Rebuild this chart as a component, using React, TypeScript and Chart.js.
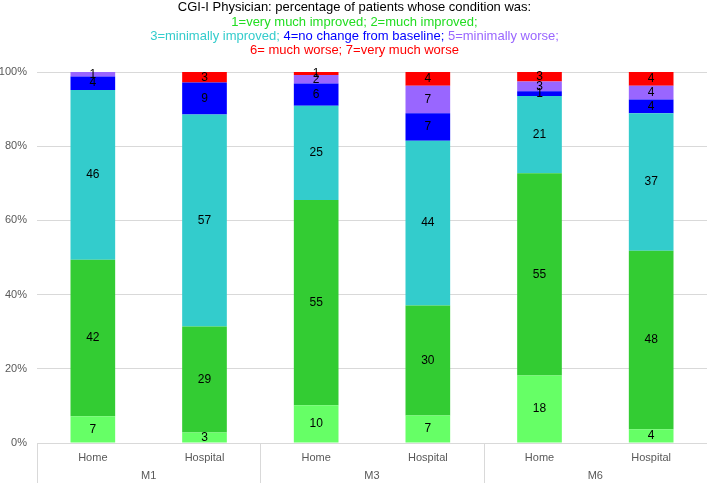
import React, { useEffect, useRef } from "react";
import { Chart, registerables } from "chart.js";

Chart.register(...registerables);

const categories = ["Home", "Hospital", "Home", "Hospital", "Home", "Hospital"];
const groups = ["M1", "M3", "M6"];
const seriesNames = [
  "1=very much improved",
  "2=much improved",
  "3=minimally improved",
  "4=no change from baseline",
  "5=minimally worse",
  "6= much worse",
];
const veryMuchImproved = [7.23, 2.86, 10.2, 7.41, 18.18, 3.7];
const muchImproved = [42.17, 28.57, 55.3, 29.63, 54.55, 48.15];
const minimallyImproved = [45.78, 57.14, 25.4, 44.44, 20.78, 37.04];
const noChange = [3.61, 8.57, 6.0, 7.41, 1.3, 3.7];
const minimallyWorse = [1.2, 0, 2.3, 7.41, 2.6, 3.7];
const muchWorse = [0, 2.86, 0.8, 3.7, 2.6, 3.7];
const yTicks = [0, 20, 40, 60, 80, 100];

const seriesValues = [veryMuchImproved, muchImproved, minimallyImproved, noChange, minimallyWorse, muchWorse];
const seriesColors = ["#66FF66", "#33CC33", "#33CCCC", "#0000FF", "#9966FF", "#FF0000"];

const titleLines: { text: string; color: string }[][] = [
  [{ text: "CGI-I Physician: percentage of patients whose condition was:", color: "#000000" }],
  [{ text: "1=very much improved; 2=much improved;", color: "#22DD22" }],
  [
    { text: "3=minimally improved; ", color: "#33CCCC" },
    { text: "4=no change from baseline; ", color: "#0000FF" },
    { text: "5=minimally worse;", color: "#9966FF" },
  ],
  [{ text: "6= much worse; 7=very much worse", color: "#FF0000" }],
];

const FONT = "'Liberation Sans', Arial, sans-serif";

export default function App() {
  const ref = useRef<HTMLCanvasElement | null>(null);

  useEffect(() => {
    if (!ref.current) return;

    const titlePlugin = {
      id: "multiColorTitle",
      afterDraw(chart: any) {
        const ctx = chart.ctx;
        ctx.save();
        ctx.font = `13px ${FONT}`;
        ctx.textBaseline = "middle";
        ctx.textAlign = "left";
        const ys = [7, 22, 36, 50];
        titleLines.forEach((line, i) => {
          const total = line.reduce((s, seg) => s + ctx.measureText(seg.text).width, 0);
          let x = chart.width / 2 - total / 2;
          line.forEach((seg) => {
            ctx.fillStyle = seg.color;
            ctx.fillText(seg.text, x, ys[i]);
            x += ctx.measureText(seg.text).width;
          });
        });
        ctx.restore();
      },
    };

    const labelPlugin = {
      id: "segLabels",
      afterDatasetsDraw(chart: any) {
        const ctx = chart.ctx;
        ctx.save();
        ctx.font = `12px ${FONT}`;
        ctx.fillStyle = "#000000";
        ctx.textAlign = "center";
        ctx.textBaseline = "middle";
        chart.data.datasets.forEach((ds: any, di: number) => {
          const meta = chart.getDatasetMeta(di);
          meta.data.forEach((el: any, i: number) => {
            const v = ds.data[i];
            if (!v) return;
            ctx.fillText(String(Math.round(v)), el.x, (el.y + el.base) / 2);
          });
        });
        ctx.restore();
      },
    };

    const groupPlugin = {
      id: "groupAxis",
      afterDraw(chart: any) {
        const ctx = chart.ctx;
        const xs = chart.scales.x;
        const area = chart.chartArea;
        const catW = (area.right - area.left) / categories.length;
        const per = categories.length / groups.length;
        ctx.save();
        ctx.strokeStyle = "#D9D9D9";
        ctx.lineWidth = 1;
        for (let g = 0; g <= groups.length - 1; g++) {
          const x = Math.round(xs.getPixelForValue(g * per) - catW / 2) + 0.5;
          ctx.beginPath();
          ctx.moveTo(x, area.bottom);
          ctx.lineTo(x, chart.height);
          ctx.stroke();
        }
        ctx.font = `11px ${FONT}`;
        ctx.fillStyle = "#595959";
        ctx.textAlign = "center";
        ctx.textBaseline = "middle";
        groups.forEach((g, gi) => {
          const x0 = xs.getPixelForValue(gi * per) - catW / 2;
          const x1 = xs.getPixelForValue(gi * per + per - 1) + catW / 2;
          ctx.fillText(g, (x0 + x1) / 2, 476);
        });
        ctx.restore();
      },
    };

    const chart = new Chart(ref.current, {
      type: "bar",
      data: {
        labels: categories,
        datasets: seriesValues.map((vals, i) => ({
          label: seriesNames[i],
          data: vals,
          backgroundColor: seriesColors[i],
          borderWidth: 0,
          barPercentage: 0.4,
          categoryPercentage: 1,
        })),
      },
      options: {
        animation: false,
        responsive: false,
        maintainAspectRatio: false,
        layout: { padding: { top: 72, right: 2, left: 0, bottom: 0 } },
        plugins: {
          legend: { display: false },
          title: { display: false },
          tooltip: { enabled: false },
        },
        scales: {
          x: {
            stacked: true,
            grid: { display: false, drawTicks: false },
            border: { display: false },
            ticks: {
              color: "#595959",
              font: { family: FONT, size: 11 },
              padding: 8,
              maxRotation: 0,
              autoSkip: false,
            },
            afterFit(scale: any) {
              scale.height = 40;
            },
          },
          y: {
            stacked: true,
            min: 0,
            max: 100,
            afterBuildTicks(scale: any) {
              scale.ticks = yTicks.map((v) => ({ value: v }));
            },
            grid: { color: "#D9D9D9", drawTicks: false },
            border: { display: false },
            ticks: {
              color: "#595959",
              font: { family: FONT, size: 11 },
              padding: 10,
              callback: (v: any) => `${v}%`,
            },
            afterFit(scale: any) {
              scale.width = 37;
            },
          },
        },
      },
      plugins: [titlePlugin, labelPlugin, groupPlugin],
    });

    return () => chart.destroy();
  }, []);

  return (
    <div style={{ position: "absolute", left: 0, top: 0, width: 709, height: 483, background: "#fff" }}>
      <canvas ref={ref} width={709} height={483} style={{ display: "block" }} />
    </div>
  );
}
